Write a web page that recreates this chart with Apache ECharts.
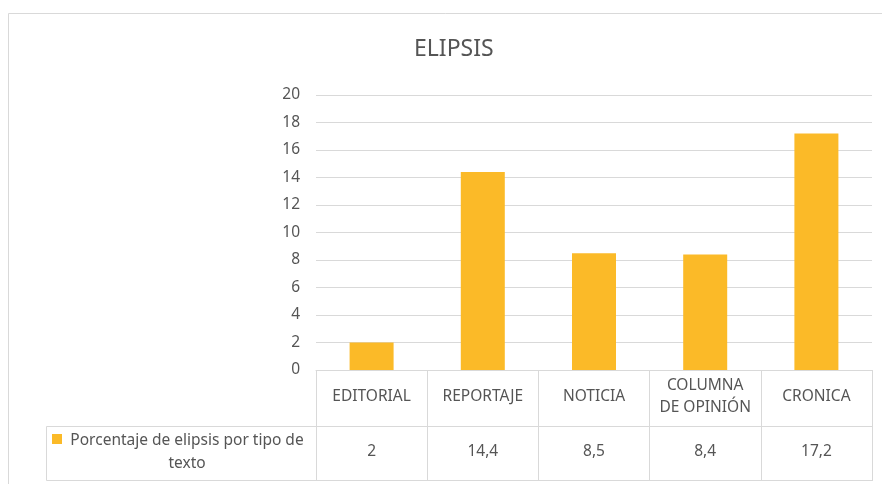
<!DOCTYPE html>
<html>
<head>
<meta charset="utf-8">
<script src="https://cdn.jsdelivr.net/npm/echarts@6/dist/echarts.min.js"></script>
<style>
  html, body { margin: 0; padding: 0; background: #fff; }
  #chart { width: 882px; height: 484px; }
</style>
</head>
<body>
<div id="chart"></div>
<script>
// datos
var categories = ["EDITORIAL", "REPORTAJE", "NOTICIA", "COLUMNA\nDE OPINIÓN", "CRONICA"];
var values = [2, 14.4, 8.5, 8.4, 17.2];
var seriesName = "Porcentaje de elipsis por tipo de\ntexto";
var yTicks = { min: 0, max: 20, interval: 2 };

var textColor = "#555555";
var lineColor = "#d9d9d9";
var barColor = "#FBBA28";
var font = "Noto Sans";
var fs = 15.5;

var myChart = echarts.init(document.getElementById("chart"));

var option = {
  backgroundColor: "#fff",
  animation: false,
  textStyle: { fontFamily: font },
  title: {
    text: "ELIPSIS",
    left: 409,
    top: 33,
    textStyle: { color: textColor, fontSize: 23, fontWeight: "normal", fontFamily: font },
  },
  grid: { left: 316, right: 10, top: 95, bottom: 114 },
  xAxis: [
    {
      type: "category",
      data: categories,
      position: "bottom",
      axisLine: { lineStyle: { color: lineColor } },
      axisTick: { show: true, length: 111, lineStyle: { color: lineColor } },
      axisLabel: {
        color: textColor,
        fontSize: fs,
        margin: 27,
        verticalAlign: "middle",
        lineHeight: 22,
        interval: 0,
      },
    },
    {
      type: "category",
      data: categories,
      position: "bottom",
      offset: 56,
      axisLine: { lineStyle: { color: lineColor } },
      axisTick: { show: false },
      axisLabel: {
        color: textColor,
        fontSize: fs,
        margin: 26,
        verticalAlign: "middle",
        interval: 0,
        formatter: function (v, i) {
          return String(values[i]).replace(".", ",");
        },
      },
    },
    {
      type: "category",
      data: categories,
      position: "bottom",
      offset: 110,
      axisLine: { lineStyle: { color: lineColor } },
      axisTick: { show: false },
      axisLabel: { show: false },
    },
  ],
  yAxis: {
    type: "value",
    min: yTicks.min,
    max: yTicks.max,
    interval: yTicks.interval,
    axisLine: { show: false },
    axisTick: { show: false },
    axisLabel: { color: textColor, fontSize: fs, margin: 16 },
    splitLine: { lineStyle: { color: lineColor } },
  },
  series: [
    {
      name: seriesName,
      type: "bar",
      data: values,
      barWidth: 44,
      itemStyle: { color: barColor },
    },
  ],
  graphic: [
    // borde del area del grafico
    {
      type: "rect",
      shape: { x: 8.5, y: 13.5, width: 900, height: 500 },
      style: { fill: null, stroke: lineColor, lineWidth: 1 },
      silent: true,
    },
    // celda de la leyenda en la tabla
    {
      type: "rect",
      shape: { x: 46.5, y: 426.5, width: 270, height: 54 },
      style: { fill: null, stroke: lineColor, lineWidth: 1 },
      silent: true,
    },
    {
      type: "rect",
      shape: { x: 52, y: 434, width: 10, height: 10 },
      style: { fill: barColor },
      silent: true,
    },
    {
      type: "text",
      x: 187,
      y: 429,
      style: {
        text: seriesName,
        fill: textColor,
        font: fs + "px '" + font + "'",
        align: "center",
        verticalAlign: "top",
        lineHeight: 23,
      },
      silent: true,
    },
  ],
};

myChart.setOption(option);
window.onresize = function () {
  myChart.resize();
};
</script>
</body>
</html>
